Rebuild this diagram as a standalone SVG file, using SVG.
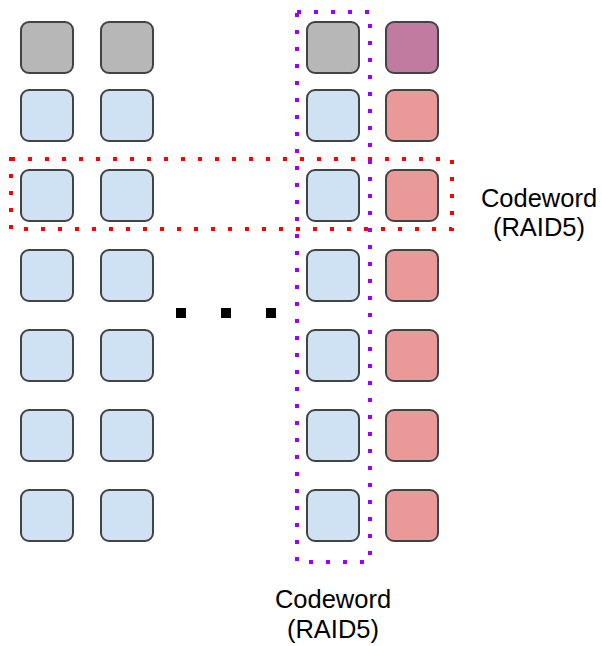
<svg xmlns="http://www.w3.org/2000/svg" width="602" height="646" viewBox="0 0 602 646">
  <style>
    .blk { stroke: #434343; stroke-width: 2; }
    .gray { fill: #b7b7b7; }
    .data { fill: #cfe2f3; }
    .par { fill: #ea9999; }
    .pp { fill: #c27ba0; }
    .grp { fill: none; stroke-width: 4; stroke-dasharray: 4 13; }
    .lbl { font-family: "Liberation Sans", Arial, sans-serif; font-size: 25.5px; fill: #000; text-anchor: middle; }
  </style>
  <defs>
    <rect id="b" width="52" height="51" rx="8" ry="8"/>
  </defs>
  <rect width="602" height="646" fill="#fff"/>

  <g id="col1">
    <use href="#b" x="21" y="22" class="blk gray"/>
    <use href="#b" x="21" y="90" class="blk data"/>
    <use href="#b" x="21" y="170" class="blk data"/>
    <use href="#b" x="21" y="250" class="blk data"/>
    <use href="#b" x="21" y="330" class="blk data"/>
    <use href="#b" x="21" y="410" class="blk data"/>
    <use href="#b" x="21" y="490" class="blk data"/>
  </g>
  <g id="col2">
    <use href="#b" x="101" y="22" class="blk gray"/>
    <use href="#b" x="101" y="90" class="blk data"/>
    <use href="#b" x="101" y="170" class="blk data"/>
    <use href="#b" x="101" y="250" class="blk data"/>
    <use href="#b" x="101" y="330" class="blk data"/>
    <use href="#b" x="101" y="410" class="blk data"/>
    <use href="#b" x="101" y="490" class="blk data"/>
  </g>
  <g id="col3">
    <use href="#b" x="307" y="22" class="blk gray"/>
    <use href="#b" x="307" y="90" class="blk data"/>
    <use href="#b" x="307" y="170" class="blk data"/>
    <use href="#b" x="307" y="250" class="blk data"/>
    <use href="#b" x="307" y="330" class="blk data"/>
    <use href="#b" x="307" y="410" class="blk data"/>
    <use href="#b" x="307" y="490" class="blk data"/>
  </g>
  <g id="col4">
    <use href="#b" x="386" y="22" class="blk pp"/>
    <use href="#b" x="386" y="90" class="blk par"/>
    <use href="#b" x="386" y="170" class="blk par"/>
    <use href="#b" x="386" y="250" class="blk par"/>
    <use href="#b" x="386" y="330" class="blk par"/>
    <use href="#b" x="386" y="410" class="blk par"/>
    <use href="#b" x="386" y="490" class="blk par"/>
  </g>

  <g id="ellipsis" fill="#000">
    <rect x="176" y="308" width="10" height="10"/>
    <rect x="221" y="308" width="10" height="10"/>
    <rect x="266" y="308" width="10" height="10"/>
  </g>

  <g id="codeword-row">
    <rect x="11" y="159" width="441" height="70" class="grp" stroke="#ff0000"/>
    <text class="lbl" x="539" y="207">Codeword</text>
    <text class="lbl" x="539" y="236">(RAID5)</text>
  </g>
  <g id="codeword-col">
    <rect x="297" y="12" width="73" height="550" class="grp" stroke="#9900ff"/>
    <text class="lbl" x="333" y="608">Codeword</text>
    <text class="lbl" x="333" y="638">(RAID5)</text>
  </g>
</svg>
